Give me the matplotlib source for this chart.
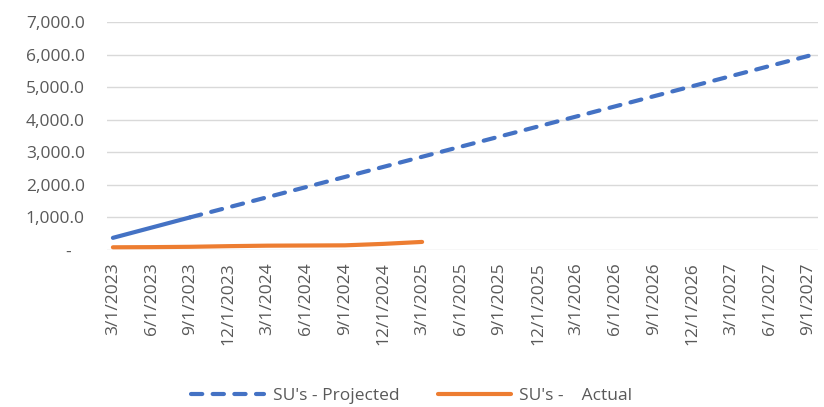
import matplotlib
matplotlib.use("Agg")
import matplotlib.pyplot as plt
from matplotlib.ticker import FuncFormatter

plt.rcParams['font.family'] = ['Open Sans', 'DejaVu Sans']

dates = ['3/1/2023', '6/1/2023', '9/1/2023', '12/1/2023',
         '3/1/2024', '6/1/2024', '9/1/2024', '12/1/2024',
         '3/1/2025', '6/1/2025', '9/1/2025', '12/1/2025',
         '3/1/2026', '6/1/2026', '9/1/2026', '12/1/2026',
         '3/1/2027', '6/1/2027', '9/1/2027']
projected = [370, 685, 1000, 1310, 1620, 1930, 2240, 2550, 2860, 3170,
             3480, 3790, 4100, 4410, 4720, 5030, 5340, 5650, 5960]
actual = [80, 85, 95, 115, 130, 135, 140, 185, 245]

blue = '#4472C4'
orange = '#ED7D31'
grey = '#595959'

fig = plt.figure(figsize=(8.24, 4.07), dpi=100)
ax = fig.add_axes([0.130, 0.386, 0.863, 0.560])

x = list(range(len(dates)))
# first two quarters drawn solid, rest dashed
ax.plot(x[:3], projected[:3], color=blue, lw=3, solid_capstyle='round')
ax.plot(x[2:], projected[2:], color=blue, lw=3, dashes=(2.7, 2.5),
        dash_capstyle='round', label="SU's - Projected")
ax.plot(x[:len(actual)], actual, color=orange, lw=3, solid_capstyle='round',
        label="SU's -    Actual")

ax.set_ylim(0, 7000)
ax.set_yticks(range(0, 7001, 1000))
ax.yaxis.set_major_formatter(FuncFormatter(lambda v, p: '-   ' if v == 0 else f'{v:,.1f}'))
ax.set_xlim(-0.15, 18.25)
ax.set_xticks(x)
ax.set_xticklabels(dates, rotation=90)
ax.grid(axis='y', color='#D9D9D9', lw=1)
ax.set_axisbelow(True)
for s in ax.spines.values():
    s.set_visible(False)
ax.tick_params(length=0, colors=grey, labelsize=12.5)
ax.tick_params(axis='y', pad=16)
ax.tick_params(axis='x', pad=9)

leg = fig.legend(loc='center', bbox_to_anchor=(0.5, 0.028), ncol=2, frameon=False,
                 fontsize=12.5, handlelength=4.2, columnspacing=2.2, handletextpad=0.5)
for t in leg.get_texts():
    t.set_color(grey)

fig.savefig('out.png', dpi=100)
